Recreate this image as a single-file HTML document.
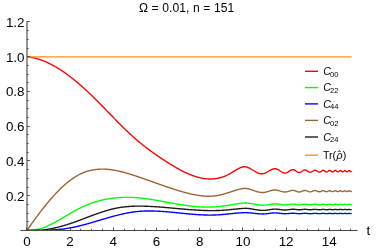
<!DOCTYPE html>
<html><head><meta charset="utf-8"><title>plot</title>
<style>html,body{margin:0;padding:0;background:#fff;overflow:hidden}svg{display:block}</style>
</head><body>
<svg width="384" height="249" viewBox="0 0 384 249">
<rect width="384" height="249" fill="#fff"/>
<g fill="none" stroke-width="1.38" stroke-linejoin="round" stroke-linecap="butt">
<path stroke="#ff0000" d="M27.00,56.80 L27.50,56.85 L28.00,56.90 L28.50,56.96 L29.00,57.02 L29.50,57.09 L30.00,57.17 L30.50,57.24 L31.00,57.33 L31.50,57.42 L32.00,57.51 L32.50,57.61 L33.00,57.71 L33.50,57.81 L34.00,57.92 L34.50,58.04 L35.00,58.16 L35.50,58.29 L36.00,58.42 L36.50,58.55 L37.00,58.69 L37.50,58.83 L38.00,58.98 L38.50,59.13 L39.00,59.29 L39.50,59.45 L40.00,59.61 L40.50,59.78 L41.00,59.96 L41.50,60.14 L42.00,60.32 L42.50,60.51 L43.00,60.70 L43.50,60.89 L44.00,61.09 L44.50,61.29 L45.00,61.50 L45.50,61.71 L46.00,61.93 L46.50,62.15 L47.00,62.37 L47.50,62.60 L48.00,62.83 L48.50,63.07 L49.00,63.31 L49.50,63.55 L50.00,63.80 L50.50,64.05 L51.00,64.30 L51.50,64.56 L52.00,64.82 L52.50,65.09 L53.00,65.36 L53.50,65.63 L54.00,65.91 L54.50,66.19 L55.00,66.48 L55.50,66.76 L56.00,67.05 L56.50,67.35 L57.00,67.65 L57.50,67.95 L58.00,68.26 L58.50,68.56 L59.00,68.88 L59.50,69.19 L60.00,69.51 L60.50,69.83 L61.00,70.16 L61.50,70.49 L62.00,70.82 L62.50,71.16 L63.00,71.50 L63.50,71.84 L64.00,72.18 L64.50,72.53 L65.00,72.88 L65.50,73.24 L66.00,73.60 L66.50,73.96 L67.00,74.32 L67.50,74.69 L68.00,75.06 L68.50,75.43 L69.00,75.80 L69.50,76.18 L70.00,76.56 L70.50,76.95 L71.00,77.33 L71.50,77.72 L72.00,78.12 L72.50,78.51 L73.00,78.91 L73.50,79.31 L74.00,79.71 L74.50,80.12 L75.00,80.53 L75.50,80.94 L76.00,81.35 L76.50,81.77 L77.00,82.19 L77.50,82.61 L78.00,83.03 L78.50,83.46 L79.00,83.89 L79.50,84.32 L80.00,84.75 L80.50,85.19 L81.00,85.62 L81.50,86.06 L82.00,86.51 L82.50,86.95 L83.00,87.40 L83.50,87.85 L84.00,88.30 L84.50,88.75 L85.00,89.21 L85.50,89.67 L86.00,90.13 L86.50,90.59 L87.00,91.05 L87.50,91.52 L88.00,91.99 L88.50,92.46 L89.00,92.93 L89.50,93.40 L90.00,93.88 L90.50,94.35 L91.00,94.83 L91.50,95.31 L92.00,95.80 L92.50,96.28 L93.00,96.77 L93.50,97.25 L94.00,97.74 L94.50,98.23 L95.00,98.73 L95.50,99.22 L96.00,99.72 L96.50,100.21 L97.00,100.71 L97.50,101.21 L98.00,101.72 L98.50,102.22 L99.00,102.72 L99.50,103.23 L100.00,103.73 L100.50,104.24 L101.00,104.75 L101.50,105.26 L102.00,105.77 L102.50,106.28 L103.00,106.79 L103.50,107.30 L104.00,107.81 L104.50,108.33 L105.00,108.84 L105.50,109.36 L106.00,109.87 L106.50,110.39 L107.00,110.90 L107.50,111.42 L108.00,111.93 L108.50,112.45 L109.00,112.96 L109.50,113.48 L110.00,113.99 L110.50,114.51 L111.00,115.03 L111.50,115.54 L112.00,116.06 L112.50,116.57 L113.00,117.08 L113.50,117.60 L114.00,118.11 L114.50,118.62 L115.00,119.13 L115.50,119.65 L116.00,120.16 L116.50,120.67 L117.00,121.17 L117.50,121.68 L118.00,122.19 L118.50,122.70 L119.00,123.20 L119.50,123.70 L120.00,124.21 L120.50,124.71 L121.00,125.21 L121.50,125.70 L122.00,126.20 L122.50,126.70 L123.00,127.19 L123.50,127.68 L124.00,128.17 L124.50,128.66 L125.00,129.15 L125.50,129.63 L126.00,130.12 L126.50,130.60 L127.00,131.08 L127.50,131.56 L128.00,132.03 L128.50,132.50 L129.00,132.97 L129.50,133.44 L130.00,133.91 L130.50,134.37 L131.00,134.83 L131.50,135.29 L132.00,135.75 L132.50,136.20 L133.00,136.65 L133.50,137.10 L134.00,137.54 L134.50,137.99 L135.00,138.43 L135.50,138.86 L136.00,139.30 L136.50,139.73 L137.00,140.16 L137.50,140.58 L138.00,141.01 L138.50,141.43 L139.00,141.85 L139.50,142.26 L140.00,142.67 L140.50,143.09 L141.00,143.49 L141.50,143.90 L142.00,144.30 L142.50,144.70 L143.00,145.10 L143.50,145.50 L144.00,145.89 L144.50,146.29 L145.00,146.68 L145.50,147.06 L146.00,147.45 L146.50,147.83 L147.00,148.21 L147.50,148.59 L148.00,148.97 L148.50,149.35 L149.00,149.72 L149.50,150.09 L150.00,150.46 L150.50,150.83 L151.00,151.19 L151.50,151.55 L152.00,151.92 L152.50,152.28 L153.00,152.63 L153.50,152.99 L154.00,153.35 L154.50,153.70 L155.00,154.05 L155.50,154.40 L156.00,154.75 L156.50,155.09 L157.00,155.44 L157.50,155.78 L158.00,156.12 L158.50,156.46 L159.00,156.80 L159.50,157.14 L160.00,157.47 L160.50,157.81 L161.00,158.14 L161.50,158.47 L162.00,158.80 L162.50,159.13 L163.00,159.46 L163.50,159.79 L164.00,160.11 L164.50,160.44 L165.00,160.76 L165.50,161.08 L166.00,161.41 L166.50,161.73 L167.00,162.05 L167.50,162.36 L168.00,162.68 L168.50,163.00 L169.00,163.31 L169.50,163.62 L170.00,163.93 L170.50,164.24 L171.00,164.55 L171.50,164.86 L172.00,165.16 L172.50,165.47 L173.00,165.77 L173.50,166.07 L174.00,166.36 L174.50,166.66 L175.00,166.95 L175.50,167.24 L176.00,167.53 L176.50,167.82 L177.00,168.10 L177.50,168.39 L178.00,168.67 L178.50,168.94 L179.00,169.22 L179.50,169.49 L180.00,169.76 L180.50,170.03 L181.00,170.29 L181.50,170.56 L182.00,170.82 L182.50,171.07 L183.00,171.32 L183.50,171.57 L184.00,171.82 L184.50,172.07 L185.00,172.31 L185.50,172.54 L186.00,172.78 L186.50,173.01 L187.00,173.24 L187.50,173.46 L188.00,173.68 L188.50,173.90 L189.00,174.11 L189.50,174.32 L190.00,174.53 L190.50,174.73 L191.00,174.93 L191.50,175.12 L192.00,175.31 L192.50,175.50 L193.00,175.68 L193.50,175.86 L194.00,176.03 L194.50,176.20 L195.00,176.36 L195.50,176.52 L196.00,176.68 L196.50,176.83 L197.00,176.98 L197.50,177.12 L198.00,177.26 L198.50,177.39 L199.00,177.52 L199.50,177.64 L200.00,177.76 L200.50,177.87 L201.00,177.98 L201.50,178.08 L202.00,178.18 L202.50,178.28 L203.00,178.36 L203.50,178.45 L204.00,178.52 L204.50,178.59 L205.00,178.66 L205.50,178.72 L206.00,178.77 L206.50,178.82 L207.00,178.87 L207.50,178.90 L208.00,178.94 L208.50,178.96 L209.00,178.98 L209.50,179.00 L210.00,179.00 L210.50,179.00 L211.00,179.00 L211.50,178.99 L212.00,178.97 L212.50,178.95 L213.00,178.92 L213.50,178.88 L214.00,178.84 L214.50,178.79 L215.00,178.73 L215.50,178.67 L216.00,178.60 L216.50,178.52 L217.00,178.44 L217.50,178.35 L218.00,178.25 L218.50,178.15 L219.00,178.04 L219.50,177.92 L220.00,177.79 L220.50,177.66 L221.00,177.52 L221.50,177.37 L222.00,177.21 L222.50,177.05 L223.00,176.88 L223.50,176.70 L224.00,176.52 L224.50,176.32 L225.00,176.12 L225.50,175.91 L226.00,175.70 L226.50,175.47 L227.00,175.24 L227.50,175.00 L228.00,174.75 L228.50,174.49 L229.00,174.22 L229.50,173.95 L230.00,173.67 L230.50,173.37 L231.00,173.08 L231.50,172.77 L232.00,172.46 L232.50,172.15 L233.00,171.84 L233.50,171.52 L234.00,171.20 L234.50,170.89 L235.00,170.57 L235.50,170.27 L236.00,169.96 L236.50,169.66 L237.00,169.37 L237.50,169.09 L238.00,168.81 L238.50,168.55 L239.00,168.30 L239.50,168.06 L240.00,167.84 L240.50,167.63 L241.00,167.44 L241.50,167.27 L242.00,167.12 L242.50,166.98 L243.00,166.87 L243.50,166.78 L244.00,166.72 L244.20,166.70 L244.60,166.71 L245.01,166.74 L245.41,166.78 L245.82,166.84 L246.22,166.92 L246.63,167.02 L247.03,167.13 L247.44,167.26 L247.84,167.41 L248.25,167.57 L248.65,167.74 L249.05,167.93 L249.46,168.12 L249.86,168.33 L250.27,168.55 L250.67,168.78 L251.08,169.01 L251.48,169.25 L251.89,169.50 L252.29,169.74 L252.70,170.00 L253.10,170.25 L253.50,170.50 L253.91,170.76 L254.31,171.00 L254.72,171.25 L255.12,171.49 L255.53,171.72 L255.93,171.95 L256.34,172.17 L256.74,172.38 L257.15,172.57 L257.55,172.76 L257.95,172.93 L258.36,173.09 L258.76,173.24 L259.17,173.37 L259.57,173.48 L259.98,173.58 L260.38,173.66 L260.79,173.72 L261.19,173.76 L261.60,173.79 L262.00,173.80 L262.41,173.79 L262.81,173.75 L263.22,173.69 L263.62,173.61 L264.03,173.50 L264.44,173.37 L264.84,173.22 L265.25,173.05 L265.66,172.87 L266.06,172.67 L266.47,172.45 L266.88,172.23 L267.28,171.99 L267.69,171.75 L268.09,171.50 L268.50,171.25 L268.91,171.00 L269.31,170.75 L269.72,170.51 L270.12,170.27 L270.53,170.05 L270.94,169.83 L271.34,169.63 L271.75,169.45 L272.16,169.28 L272.56,169.13 L272.97,169.00 L273.38,168.89 L273.78,168.81 L274.19,168.75 L274.59,168.71 L275.00,168.70 L275.40,168.72 L275.80,168.77 L276.20,168.85 L276.60,168.97 L277.00,169.11 L277.40,169.28 L277.80,169.48 L278.20,169.70 L278.60,169.93 L279.00,170.19 L279.40,170.45 L279.80,170.72 L280.20,170.98 L280.60,171.25 L281.00,171.51 L281.40,171.77 L281.80,172.00 L282.20,172.22 L282.60,172.42 L283.00,172.59 L283.40,172.73 L283.80,172.85 L284.20,172.93 L284.60,172.98 L285.00,173.00 L285.40,172.98 L285.80,172.92 L286.20,172.82 L286.60,172.68 L287.00,172.52 L287.40,172.32 L287.80,172.10 L288.20,171.86 L288.60,171.61 L289.00,171.35 L289.40,171.09 L289.80,170.84 L290.20,170.60 L290.60,170.38 L291.00,170.18 L291.40,170.02 L291.80,169.88 L292.20,169.78 L292.60,169.72 L293.00,169.70 L293.41,169.73 L293.83,169.82 L294.24,169.97 L294.65,170.16 L295.07,170.40 L295.48,170.67 L295.89,170.95 L296.31,171.25 L296.72,171.53 L297.13,171.80 L297.55,172.04 L297.96,172.23 L298.37,172.38 L298.79,172.47 L299.20,172.50 L299.61,172.47 L300.03,172.38 L300.44,172.23 L300.86,172.03 L301.27,171.79 L301.69,171.53 L302.10,171.25 L302.51,170.97 L302.93,170.71 L303.34,170.47 L303.76,170.27 L304.17,170.12 L304.59,170.03 L305.00,170.00 L305.43,170.04 L305.85,170.15 L306.27,170.32 L306.70,170.55 L307.12,170.82 L307.55,171.10 L307.98,171.38 L308.40,171.65 L308.83,171.88 L309.25,172.05 L309.68,172.16 L310.10,172.20 L310.51,172.17 L310.92,172.07 L311.33,171.92 L311.73,171.72 L312.14,171.50 L312.55,171.25 L312.96,171.00 L313.37,170.78 L313.77,170.58 L314.18,170.43 L314.59,170.33 L315.00,170.30 L315.44,170.34 L315.88,170.47 L316.32,170.67 L316.76,170.92 L317.20,171.20 L317.64,171.48 L318.08,171.73 L318.52,171.93 L318.96,172.06 L319.40,172.10 L319.83,172.05 L320.27,171.89 L320.70,171.65 L321.13,171.36 L321.57,171.04 L322.00,170.75 L322.43,170.51 L322.87,170.35 L323.30,170.30 L323.74,170.38 L324.19,170.62 L324.63,170.96 L325.07,171.34 L325.51,171.68 L325.96,171.92 L326.40,172.00 L326.81,171.94 L327.22,171.77 L327.64,171.51 L328.05,171.20 L328.46,170.89 L328.88,170.63 L329.29,170.46 L329.70,170.40 L330.10,170.48 L330.50,170.70 L330.90,171.02 L331.30,171.38 L331.70,171.70 L332.10,171.92 L332.50,172.00 L332.91,171.92 L333.33,171.70 L333.74,171.38 L334.16,171.02 L334.57,170.70 L334.99,170.48 L335.40,170.40 L335.80,170.50 L336.20,170.78 L336.60,171.15 L337.00,171.53 L337.40,171.80 L337.80,171.90 L338.23,171.81 L338.67,171.55 L339.10,171.20 L339.53,170.85 L339.97,170.59 L340.40,170.50 L340.86,170.63 L341.32,170.98 L341.78,171.42 L342.24,171.77 L342.70,171.90 L343.14,171.77 L343.58,171.42 L344.02,170.98 L344.46,170.63 L344.90,170.50 L345.34,170.62 L345.78,170.95 L346.22,171.35 L346.66,171.68 L347.10,171.80 L347.50,171.69 L347.90,171.39 L348.30,171.01 L348.70,170.71 L349.10,170.60 L349.58,170.76 L350.05,171.15 L350.52,171.54 L351.00,171.70 L351.18,171.64 L351.35,171.50 L351.52,171.36 L351.70,171.30"/>
<path stroke="#00ff00" d="M31.00,230.15 L31.50,230.15 L32.00,230.15 L32.50,230.15 L33.00,230.15 L33.50,230.15 L34.00,230.11 L34.50,230.05 L35.00,229.97 L35.50,229.89 L36.00,229.80 L36.50,229.71 L37.00,229.60 L37.50,229.50 L38.00,229.38 L38.50,229.26 L39.00,229.13 L39.50,228.99 L40.00,228.85 L40.50,228.70 L41.00,228.55 L41.50,228.39 L42.00,228.22 L42.50,228.05 L43.00,227.88 L43.50,227.69 L44.00,227.51 L44.50,227.31 L45.00,227.12 L45.50,226.91 L46.00,226.71 L46.50,226.50 L47.00,226.28 L47.50,226.06 L48.00,225.83 L48.50,225.61 L49.00,225.37 L49.50,225.14 L50.00,224.89 L50.50,224.65 L51.00,224.40 L51.50,224.15 L52.00,223.90 L52.50,223.64 L53.00,223.38 L53.50,223.11 L54.00,222.85 L54.50,222.58 L55.00,222.31 L55.50,222.03 L56.00,221.75 L56.50,221.48 L57.00,221.19 L57.50,220.91 L58.00,220.63 L58.50,220.34 L59.00,220.05 L59.50,219.76 L60.00,219.47 L60.50,219.18 L61.00,218.88 L61.50,218.59 L62.00,218.29 L62.50,218.00 L63.00,217.70 L63.50,217.40 L64.00,217.11 L64.50,216.81 L65.00,216.51 L65.50,216.21 L66.00,215.91 L66.50,215.61 L67.00,215.32 L67.50,215.02 L68.00,214.72 L68.50,214.43 L69.00,214.13 L69.50,213.84 L70.00,213.54 L70.50,213.25 L71.00,212.96 L71.50,212.67 L72.00,212.38 L72.50,212.10 L73.00,211.81 L73.50,211.53 L74.00,211.25 L74.50,210.97 L75.00,210.70 L75.50,210.42 L76.00,210.15 L76.50,209.88 L77.00,209.62 L77.50,209.35 L78.00,209.09 L78.50,208.84 L79.00,208.58 L79.50,208.33 L80.00,208.09 L80.50,207.84 L81.00,207.60 L81.50,207.36 L82.00,207.13 L82.50,206.90 L83.00,206.67 L83.50,206.44 L84.00,206.22 L84.50,206.00 L85.00,205.78 L85.50,205.57 L86.00,205.36 L86.50,205.15 L87.00,204.95 L87.50,204.75 L88.00,204.55 L88.50,204.35 L89.00,204.16 L89.50,203.97 L90.00,203.78 L90.50,203.60 L91.00,203.42 L91.50,203.24 L92.00,203.07 L92.50,202.89 L93.00,202.72 L93.50,202.56 L94.00,202.39 L94.50,202.23 L95.00,202.08 L95.50,201.92 L96.00,201.77 L96.50,201.62 L97.00,201.47 L97.50,201.33 L98.00,201.19 L98.50,201.05 L99.00,200.91 L99.50,200.78 L100.00,200.65 L100.50,200.52 L101.00,200.40 L101.50,200.27 L102.00,200.15 L102.50,200.04 L103.00,199.92 L103.50,199.81 L104.00,199.70 L104.50,199.60 L105.00,199.49 L105.50,199.39 L106.00,199.29 L106.50,199.19 L107.00,199.10 L107.50,199.01 L108.00,198.92 L108.50,198.84 L109.00,198.75 L109.50,198.67 L110.00,198.59 L110.50,198.52 L111.00,198.44 L111.50,198.37 L112.00,198.30 L112.50,198.24 L113.00,198.17 L113.50,198.11 L114.00,198.05 L114.50,198.00 L115.00,197.94 L115.50,197.89 L116.00,197.84 L116.50,197.79 L117.00,197.75 L117.50,197.70 L118.00,197.66 L118.50,197.63 L119.00,197.59 L119.50,197.56 L120.00,197.53 L120.50,197.50 L121.00,197.47 L121.50,197.45 L122.00,197.42 L122.50,197.40 L123.00,197.39 L123.50,197.37 L124.00,197.36 L124.50,197.35 L125.00,197.34 L125.50,197.33 L126.00,197.32 L126.50,197.32 L127.00,197.32 L127.50,197.32 L128.00,197.33 L128.50,197.33 L129.00,197.34 L129.50,197.35 L130.00,197.36 L130.50,197.37 L131.00,197.39 L131.50,197.41 L132.00,197.43 L132.50,197.45 L133.00,197.47 L133.50,197.50 L134.00,197.53 L134.50,197.56 L135.00,197.59 L135.50,197.62 L136.00,197.66 L136.50,197.69 L137.00,197.73 L137.50,197.77 L138.00,197.82 L138.50,197.86 L139.00,197.91 L139.50,197.95 L140.00,198.00 L140.50,198.05 L141.00,198.10 L141.50,198.16 L142.00,198.21 L142.50,198.27 L143.00,198.33 L143.50,198.39 L144.00,198.45 L144.50,198.51 L145.00,198.57 L145.50,198.64 L146.00,198.70 L146.50,198.77 L147.00,198.84 L147.50,198.91 L148.00,198.98 L148.50,199.05 L149.00,199.12 L149.50,199.20 L150.00,199.27 L150.50,199.35 L151.00,199.43 L151.50,199.50 L152.00,199.58 L152.50,199.66 L153.00,199.74 L153.50,199.82 L154.00,199.90 L154.50,199.99 L155.00,200.07 L155.50,200.15 L156.00,200.24 L156.50,200.32 L157.00,200.41 L157.50,200.50 L158.00,200.58 L158.50,200.67 L159.00,200.76 L159.50,200.85 L160.00,200.94 L160.50,201.03 L161.00,201.11 L161.50,201.20 L162.00,201.29 L162.50,201.39 L163.00,201.48 L163.50,201.57 L164.00,201.66 L164.50,201.75 L165.00,201.84 L165.50,201.93 L166.00,202.02 L166.50,202.11 L167.00,202.21 L167.50,202.30 L168.00,202.39 L168.50,202.48 L169.00,202.57 L169.50,202.66 L170.00,202.75 L170.50,202.84 L171.00,202.93 L171.50,203.02 L172.00,203.11 L172.50,203.20 L173.00,203.29 L173.50,203.38 L174.00,203.47 L174.50,203.56 L175.00,203.64 L175.50,203.73 L176.00,203.82 L176.50,203.90 L177.00,203.99 L177.50,204.07 L178.00,204.16 L178.50,204.24 L179.00,204.32 L179.50,204.40 L180.00,204.48 L180.50,204.56 L181.00,204.64 L181.50,204.72 L182.00,204.80 L182.50,204.88 L183.00,204.96 L183.50,205.03 L184.00,205.11 L184.50,205.18 L185.00,205.25 L185.50,205.32 L186.00,205.39 L186.50,205.46 L187.00,205.53 L187.50,205.60 L188.00,205.67 L188.50,205.73 L189.00,205.79 L189.50,205.86 L190.00,205.92 L190.50,205.98 L191.00,206.04 L191.50,206.10 L192.00,206.15 L192.50,206.21 L193.00,206.26 L193.50,206.31 L194.00,206.36 L194.50,206.41 L195.00,206.46 L195.50,206.51 L196.00,206.55 L196.50,206.59 L197.00,206.64 L197.50,206.68 L198.00,206.72 L198.50,206.75 L199.00,206.79 L199.50,206.82 L200.00,206.85 L200.50,206.88 L201.00,206.91 L201.50,206.94 L202.00,206.96 L202.50,206.98 L203.00,207.00 L203.50,207.02 L204.00,207.04 L204.50,207.06 L205.00,207.07 L205.50,207.08 L206.00,207.09 L206.50,207.10 L207.00,207.10 L207.50,207.10 L208.00,207.10 L208.50,207.10 L209.00,207.10 L209.50,207.09 L210.00,207.08 L210.50,207.07 L211.00,207.06 L211.50,207.05 L212.00,207.03 L212.50,207.01 L213.00,206.99 L213.50,206.96 L214.00,206.94 L214.50,206.91 L215.00,206.87 L215.50,206.84 L216.00,206.80 L216.50,206.76 L217.00,206.72 L217.50,206.68 L218.00,206.63 L218.50,206.58 L219.00,206.53 L219.50,206.47 L220.00,206.42 L220.50,206.36 L221.00,206.30 L221.50,206.24 L222.00,206.17 L222.50,206.11 L223.00,206.04 L223.50,205.97 L224.00,205.90 L224.50,205.83 L225.00,205.76 L225.50,205.69 L226.00,205.61 L226.50,205.53 L227.00,205.46 L227.50,205.38 L228.00,205.30 L228.50,205.22 L229.00,205.14 L229.50,205.06 L230.00,204.98 L230.50,204.90 L231.00,204.82 L231.50,204.74 L232.00,204.65 L232.50,204.57 L233.00,204.49 L233.50,204.41 L234.00,204.33 L234.50,204.25 L235.00,204.17 L235.50,204.09 L236.00,204.01 L236.50,203.93 L237.00,203.86 L237.50,203.78 L238.00,203.71 L238.50,203.64 L239.00,203.57 L239.50,203.51 L240.00,203.44 L240.50,203.38 L241.00,203.33 L241.50,203.27 L242.00,203.22 L242.50,203.18 L243.00,203.13 L243.50,203.09 L244.00,203.06 L244.50,203.03 L245.00,203.00 L245.40,203.00 L245.80,203.01 L246.20,203.02 L246.60,203.04 L247.00,203.07 L247.40,203.10 L247.80,203.13 L248.20,203.17 L248.60,203.21 L249.00,203.26 L249.40,203.31 L249.80,203.36 L250.20,203.42 L250.60,203.48 L251.00,203.55 L251.40,203.62 L251.80,203.69 L252.20,203.76 L252.60,203.83 L253.00,203.91 L253.40,203.99 L253.80,204.06 L254.20,204.14 L254.60,204.21 L255.00,204.29 L255.40,204.37 L255.80,204.44 L256.20,204.51 L256.60,204.58 L257.00,204.65 L257.40,204.72 L257.80,204.78 L258.20,204.84 L258.60,204.89 L259.00,204.94 L259.40,204.99 L259.80,205.03 L260.20,205.07 L260.60,205.10 L261.00,205.13 L261.40,205.16 L261.80,205.18 L262.20,205.19 L262.60,205.20 L263.00,205.20 L263.40,205.20 L263.80,205.19 L264.20,205.17 L264.60,205.14 L265.00,205.11 L265.40,205.08 L265.80,205.03 L266.20,204.98 L266.60,204.93 L267.00,204.88 L267.40,204.81 L267.80,204.75 L268.20,204.69 L268.60,204.62 L269.00,204.55 L269.40,204.48 L269.80,204.41 L270.20,204.35 L270.60,204.29 L271.00,204.22 L271.40,204.17 L271.80,204.12 L272.20,204.07 L272.60,204.02 L273.00,203.99 L273.40,203.96 L273.80,203.93 L274.20,203.91 L274.60,203.90 L275.00,203.90 L275.40,203.90 L275.80,203.92 L276.20,203.94 L276.60,203.96 L277.00,204.00 L277.40,204.04 L277.80,204.08 L278.20,204.13 L278.60,204.19 L279.00,204.25 L279.40,204.31 L279.80,204.37 L280.20,204.43 L280.60,204.49 L281.00,204.55 L281.40,204.61 L281.80,204.67 L282.20,204.72 L282.60,204.76 L283.00,204.80 L283.40,204.84 L283.80,204.86 L284.20,204.88 L284.60,204.90 L285.00,204.90 L285.40,204.90 L285.80,204.88 L286.20,204.86 L286.60,204.82 L287.00,204.78 L287.40,204.74 L287.80,204.68 L288.20,204.62 L288.60,204.56 L289.00,204.50 L289.40,204.44 L289.80,204.38 L290.20,204.32 L290.60,204.26 L291.00,204.22 L291.40,204.18 L291.80,204.14 L292.20,204.12 L292.60,204.10 L293.00,204.10 L293.41,204.11 L293.83,204.13 L294.24,204.18 L294.65,204.23 L295.07,204.30 L295.48,204.38 L295.89,204.46 L296.31,204.54 L296.72,204.62 L297.13,204.70 L297.55,204.77 L297.96,204.82 L298.37,204.87 L298.79,204.89 L299.20,204.90 L299.61,204.89 L300.03,204.86 L300.44,204.82 L300.86,204.76 L301.27,204.69 L301.69,204.61 L302.10,204.53 L302.51,204.44 L302.93,204.36 L303.34,204.29 L303.76,204.23 L304.17,204.19 L304.59,204.16 L305.00,204.15 L305.43,204.16 L305.85,204.20 L306.27,204.25 L306.70,204.32 L307.12,204.41 L307.55,204.50 L307.98,204.59 L308.40,204.67 L308.83,204.75 L309.25,204.80 L309.68,204.84 L310.10,204.85 L310.51,204.84 L310.92,204.81 L311.33,204.75 L311.73,204.69 L312.14,204.61 L312.55,204.53 L312.96,204.44 L313.37,204.36 L313.77,204.30 L314.18,204.24 L314.59,204.21 L315.00,204.20 L315.44,204.21 L315.88,204.26 L316.32,204.32 L316.76,204.41 L317.20,204.50 L317.64,204.59 L318.08,204.68 L318.52,204.74 L318.96,204.79 L319.40,204.80 L319.83,204.78 L320.27,204.73 L320.70,204.65 L321.13,204.55 L321.57,204.45 L322.00,204.35 L322.43,204.27 L322.87,204.22 L323.30,204.20 L323.74,204.23 L324.19,204.31 L324.63,204.43 L325.07,204.57 L325.51,204.69 L325.96,204.77 L326.40,204.80 L326.81,204.78 L327.22,204.72 L327.64,204.63 L328.05,204.53 L328.46,204.42 L328.88,204.33 L329.29,204.27 L329.70,204.25 L330.10,204.27 L330.50,204.34 L330.90,204.44 L331.30,204.56 L331.70,204.66 L332.10,204.73 L332.50,204.75 L332.91,204.73 L333.33,204.66 L333.74,204.56 L334.16,204.44 L334.57,204.34 L334.99,204.27 L335.40,204.25 L335.80,204.28 L336.20,204.38 L336.60,204.50 L337.00,204.62 L337.40,204.72 L337.80,204.75 L338.23,204.72 L338.67,204.64 L339.10,204.53 L339.53,204.41 L339.97,204.33 L340.40,204.30 L340.86,204.34 L341.32,204.44 L341.78,204.56 L342.24,204.66 L342.70,204.70 L343.14,204.66 L343.58,204.56 L344.02,204.44 L344.46,204.34 L344.90,204.30 L345.34,204.34 L345.78,204.44 L346.22,204.56 L346.66,204.66 L347.10,204.70 L347.50,204.66 L347.90,204.56 L348.30,204.44 L348.70,204.34 L349.10,204.30 L349.58,204.36 L350.05,204.50 L350.52,204.64 L351.00,204.70 L351.18,204.67 L351.35,204.60 L351.52,204.53 L351.70,204.50"/>
<path stroke="#0000ff" d="M47.00,230.15 L47.50,230.15 L48.00,230.15 L48.50,230.15 L49.00,230.15 L49.50,230.13 L50.00,230.10 L50.50,230.08 L51.00,230.05 L51.50,230.03 L52.00,230.00 L52.50,229.97 L53.00,229.94 L53.50,229.90 L54.00,229.87 L54.50,229.84 L55.00,229.80 L55.50,229.76 L56.00,229.72 L56.50,229.68 L57.00,229.64 L57.50,229.59 L58.00,229.55 L58.50,229.50 L59.00,229.45 L59.50,229.40 L60.00,229.35 L60.50,229.29 L61.00,229.24 L61.50,229.18 L62.00,229.12 L62.50,229.06 L63.00,229.00 L63.50,228.94 L64.00,228.87 L64.50,228.80 L65.00,228.73 L65.50,228.66 L66.00,228.59 L66.50,228.51 L67.00,228.44 L67.50,228.36 L68.00,228.28 L68.50,228.19 L69.00,228.11 L69.50,228.02 L70.00,227.93 L70.50,227.84 L71.00,227.75 L71.50,227.66 L72.00,227.56 L72.50,227.46 L73.00,227.36 L73.50,227.26 L74.00,227.15 L74.50,227.05 L75.00,226.94 L75.50,226.83 L76.00,226.72 L76.50,226.61 L77.00,226.49 L77.50,226.38 L78.00,226.26 L78.50,226.14 L79.00,226.02 L79.50,225.90 L80.00,225.78 L80.50,225.65 L81.00,225.53 L81.50,225.40 L82.00,225.27 L82.50,225.14 L83.00,225.01 L83.50,224.88 L84.00,224.75 L84.50,224.61 L85.00,224.48 L85.50,224.34 L86.00,224.21 L86.50,224.07 L87.00,223.93 L87.50,223.79 L88.00,223.65 L88.50,223.51 L89.00,223.37 L89.50,223.23 L90.00,223.08 L90.50,222.94 L91.00,222.79 L91.50,222.65 L92.00,222.50 L92.50,222.36 L93.00,222.21 L93.50,222.06 L94.00,221.92 L94.50,221.77 L95.00,221.62 L95.50,221.47 L96.00,221.32 L96.50,221.18 L97.00,221.03 L97.50,220.88 L98.00,220.73 L98.50,220.58 L99.00,220.43 L99.50,220.28 L100.00,220.13 L100.50,219.98 L101.00,219.83 L101.50,219.68 L102.00,219.53 L102.50,219.39 L103.00,219.24 L103.50,219.09 L104.00,218.94 L104.50,218.79 L105.00,218.65 L105.50,218.50 L106.00,218.35 L106.50,218.21 L107.00,218.06 L107.50,217.92 L108.00,217.77 L108.50,217.63 L109.00,217.48 L109.50,217.34 L110.00,217.20 L110.50,217.06 L111.00,216.92 L111.50,216.78 L112.00,216.64 L112.50,216.50 L113.00,216.37 L113.50,216.23 L114.00,216.10 L114.50,215.96 L115.00,215.83 L115.50,215.70 L116.00,215.57 L116.50,215.44 L117.00,215.31 L117.50,215.18 L118.00,215.06 L118.50,214.93 L119.00,214.81 L119.50,214.69 L120.00,214.57 L120.50,214.45 L121.00,214.33 L121.50,214.22 L122.00,214.10 L122.50,213.99 L123.00,213.88 L123.50,213.77 L124.00,213.66 L124.50,213.56 L125.00,213.45 L125.50,213.35 L126.00,213.25 L126.50,213.15 L127.00,213.05 L127.50,212.96 L128.00,212.86 L128.50,212.77 L129.00,212.68 L129.50,212.60 L130.00,212.51 L130.50,212.43 L131.00,212.35 L131.50,212.27 L132.00,212.20 L132.50,212.12 L133.00,212.05 L133.50,211.98 L134.00,211.92 L134.50,211.85 L135.00,211.79 L135.50,211.73 L136.00,211.67 L136.50,211.62 L137.00,211.57 L137.50,211.52 L138.00,211.47 L138.50,211.43 L139.00,211.38 L139.50,211.34 L140.00,211.31 L140.50,211.27 L141.00,211.24 L141.50,211.20 L142.00,211.17 L142.50,211.15 L143.00,211.12 L143.50,211.10 L144.00,211.08 L144.50,211.06 L145.00,211.04 L145.50,211.03 L146.00,211.01 L146.50,211.00 L147.00,210.99 L147.50,210.98 L148.00,210.98 L148.50,210.97 L149.00,210.97 L149.50,210.97 L150.00,210.97 L150.50,210.97 L151.00,210.98 L151.50,210.98 L152.00,210.99 L152.50,211.00 L153.00,211.01 L153.50,211.02 L154.00,211.04 L154.50,211.05 L155.00,211.07 L155.50,211.08 L156.00,211.10 L156.50,211.12 L157.00,211.14 L157.50,211.17 L158.00,211.19 L158.50,211.22 L159.00,211.24 L159.50,211.27 L160.00,211.30 L160.50,211.33 L161.00,211.36 L161.50,211.39 L162.00,211.42 L162.50,211.46 L163.00,211.49 L163.50,211.53 L164.00,211.57 L164.50,211.60 L165.00,211.64 L165.50,211.68 L166.00,211.72 L166.50,211.76 L167.00,211.80 L167.50,211.85 L168.00,211.89 L168.50,211.93 L169.00,211.98 L169.50,212.02 L170.00,212.07 L170.50,212.11 L171.00,212.16 L171.50,212.21 L172.00,212.25 L172.50,212.30 L173.00,212.35 L173.50,212.40 L174.00,212.45 L174.50,212.50 L175.00,212.55 L175.50,212.60 L176.00,212.65 L176.50,212.70 L177.00,212.75 L177.50,212.80 L178.00,212.85 L178.50,212.90 L179.00,212.95 L179.50,213.00 L180.00,213.05 L180.50,213.10 L181.00,213.15 L181.50,213.20 L182.00,213.25 L182.50,213.30 L183.00,213.36 L183.50,213.41 L184.00,213.46 L184.50,213.51 L185.00,213.55 L185.50,213.60 L186.00,213.65 L186.50,213.70 L187.00,213.75 L187.50,213.80 L188.00,213.85 L188.50,213.89 L189.00,213.94 L189.50,213.98 L190.00,214.03 L190.50,214.07 L191.00,214.12 L191.50,214.16 L192.00,214.21 L192.50,214.25 L193.00,214.29 L193.50,214.33 L194.00,214.37 L194.50,214.41 L195.00,214.45 L195.50,214.49 L196.00,214.52 L196.50,214.56 L197.00,214.59 L197.50,214.63 L198.00,214.66 L198.50,214.69 L199.00,214.72 L199.50,214.75 L200.00,214.78 L200.50,214.81 L201.00,214.84 L201.50,214.86 L202.00,214.88 L202.50,214.91 L203.00,214.93 L203.50,214.95 L204.00,214.97 L204.50,214.99 L205.00,215.00 L205.50,215.02 L206.00,215.03 L206.50,215.04 L207.00,215.05 L207.50,215.06 L208.00,215.07 L208.50,215.07 L209.00,215.08 L209.50,215.08 L210.00,215.08 L210.50,215.08 L211.00,215.08 L211.50,215.07 L212.00,215.07 L212.50,215.06 L213.00,215.05 L213.50,215.04 L214.00,215.03 L214.50,215.01 L215.00,214.99 L215.50,214.97 L216.00,214.95 L216.50,214.93 L217.00,214.90 L217.50,214.88 L218.00,214.85 L218.50,214.82 L219.00,214.79 L219.50,214.75 L220.00,214.71 L220.50,214.68 L221.00,214.64 L221.50,214.60 L222.00,214.56 L222.50,214.51 L223.00,214.47 L223.50,214.42 L224.00,214.38 L224.50,214.33 L225.00,214.28 L225.50,214.24 L226.00,214.19 L226.50,214.14 L227.00,214.09 L227.50,214.04 L228.00,213.99 L228.50,213.94 L229.00,213.88 L229.50,213.83 L230.00,213.78 L230.50,213.73 L231.00,213.68 L231.50,213.63 L232.00,213.58 L232.50,213.53 L233.00,213.48 L233.50,213.43 L234.00,213.38 L234.50,213.34 L235.00,213.29 L235.50,213.24 L236.00,213.20 L236.50,213.15 L237.00,213.11 L237.50,213.07 L238.00,213.03 L238.50,212.99 L239.00,212.95 L239.50,212.92 L240.00,212.88 L240.50,212.85 L241.00,212.82 L241.50,212.79 L242.00,212.77 L242.50,212.74 L243.00,212.72 L243.50,212.70 L244.00,212.68 L244.50,212.66 L245.00,212.65 L245.40,212.65 L245.80,212.66 L246.20,212.66 L246.60,212.68 L247.00,212.69 L247.40,212.71 L247.80,212.73 L248.20,212.75 L248.60,212.77 L249.00,212.80 L249.40,212.83 L249.80,212.87 L250.20,212.90 L250.60,212.94 L251.00,212.97 L251.40,213.02 L251.80,213.06 L252.20,213.10 L252.60,213.14 L253.00,213.19 L253.40,213.23 L253.80,213.28 L254.20,213.32 L254.60,213.37 L255.00,213.41 L255.40,213.46 L255.80,213.50 L256.20,213.54 L256.60,213.58 L257.00,213.62 L257.40,213.66 L257.80,213.70 L258.20,213.73 L258.60,213.77 L259.00,213.80 L259.40,213.83 L259.80,213.85 L260.20,213.87 L260.60,213.89 L261.00,213.91 L261.40,213.92 L261.80,213.94 L262.20,213.94 L262.60,213.95 L263.00,213.95 L263.40,213.95 L263.80,213.94 L264.20,213.92 L264.60,213.90 L265.00,213.88 L265.40,213.85 L265.80,213.82 L266.20,213.78 L266.60,213.73 L267.00,213.69 L267.40,213.64 L267.80,213.59 L268.20,213.53 L268.60,213.48 L269.00,213.43 L269.40,213.37 L269.80,213.32 L270.20,213.26 L270.60,213.21 L271.00,213.16 L271.40,213.12 L271.80,213.07 L272.20,213.03 L272.60,213.00 L273.00,212.97 L273.40,212.95 L273.80,212.93 L274.20,212.91 L274.60,212.90 L275.00,212.90 L275.40,212.90 L275.80,212.91 L276.20,212.93 L276.60,212.95 L277.00,212.98 L277.40,213.01 L277.80,213.05 L278.20,213.09 L278.60,213.13 L279.00,213.18 L279.40,213.23 L279.80,213.27 L280.20,213.33 L280.60,213.37 L281.00,213.42 L281.40,213.47 L281.80,213.51 L282.20,213.55 L282.60,213.59 L283.00,213.62 L283.40,213.65 L283.80,213.67 L284.20,213.69 L284.60,213.70 L285.00,213.70 L285.40,213.70 L285.80,213.69 L286.20,213.68 L286.60,213.66 L287.00,213.63 L287.40,213.61 L287.80,213.58 L288.20,213.54 L288.60,213.51 L289.00,213.47 L289.40,213.44 L289.80,213.41 L290.20,213.37 L290.60,213.34 L291.00,213.32 L291.40,213.29 L291.80,213.27 L292.20,213.26 L292.60,213.25 L293.00,213.25 L293.41,213.25 L293.83,213.27 L294.24,213.29 L294.65,213.32 L295.07,213.36 L295.48,213.41 L295.89,213.45 L296.31,213.50 L296.72,213.54 L297.13,213.59 L297.55,213.63 L297.96,213.66 L298.37,213.68 L298.79,213.70 L299.20,213.70 L299.61,213.69 L300.03,213.68 L300.44,213.66 L300.86,213.62 L301.27,213.59 L301.69,213.54 L302.10,213.50 L302.51,213.46 L302.93,213.41 L303.34,213.38 L303.76,213.34 L304.17,213.32 L304.59,213.31 L305.00,213.30 L305.43,213.31 L305.85,213.33 L306.27,213.36 L306.70,213.40 L307.12,213.45 L307.55,213.50 L307.98,213.55 L308.40,213.60 L308.83,213.64 L309.25,213.67 L309.68,213.69 L310.10,213.70 L310.51,213.69 L310.92,213.68 L311.33,213.65 L311.73,213.61 L312.14,213.57 L312.55,213.53 L312.96,213.48 L313.37,213.44 L313.77,213.40 L314.18,213.37 L314.59,213.36 L315.00,213.35 L315.44,213.36 L315.88,213.38 L316.32,213.41 L316.76,213.45 L317.20,213.50 L317.64,213.55 L318.08,213.59 L318.52,213.62 L318.96,213.64 L319.40,213.65 L319.83,213.64 L320.27,213.61 L320.70,213.58 L321.13,213.53 L321.57,213.47 L322.00,213.43 L322.43,213.39 L322.87,213.36 L323.30,213.35 L323.74,213.36 L324.19,213.41 L324.63,213.47 L325.07,213.53 L325.51,213.59 L325.96,213.64 L326.40,213.65 L326.81,213.64 L327.22,213.61 L327.64,213.57 L328.05,213.53 L328.46,213.48 L328.88,213.44 L329.29,213.41 L329.70,213.40 L330.10,213.41 L330.50,213.44 L330.90,213.48 L331.30,213.52 L331.70,213.56 L332.10,213.59 L332.50,213.60 L332.91,213.59 L333.33,213.56 L333.74,213.52 L334.16,213.48 L334.57,213.44 L334.99,213.41 L335.40,213.40 L335.80,213.41 L336.20,213.45 L336.60,213.50 L337.00,213.55 L337.40,213.59 L337.80,213.60 L338.23,213.59 L338.67,213.55 L339.10,213.50 L339.53,213.45 L339.97,213.41 L340.40,213.40 L340.86,213.42 L341.32,213.47 L341.78,213.53 L342.24,213.58 L342.70,213.60 L343.14,213.58 L343.58,213.53 L344.02,213.47 L344.46,213.42 L344.90,213.40 L345.34,213.42 L345.78,213.47 L346.22,213.53 L346.66,213.58 L347.10,213.60 L347.50,213.58 L347.90,213.53 L348.30,213.47 L348.70,213.42 L349.10,213.40 L349.58,213.43 L350.05,213.50 L350.52,213.57 L351.00,213.60 L351.18,213.59 L351.35,213.55 L351.52,213.51 L351.70,213.50"/>
<path stroke="#996633" d="M27.00,230.15 L27.50,229.58 L28.00,228.87 L28.50,228.15 L29.00,227.44 L29.50,226.73 L30.00,226.02 L30.50,225.31 L31.00,224.61 L31.50,223.91 L32.00,223.21 L32.50,222.51 L33.00,221.82 L33.50,221.12 L34.00,220.43 L34.50,219.75 L35.00,219.06 L35.50,218.38 L36.00,217.70 L36.50,217.02 L37.00,216.35 L37.50,215.68 L38.00,215.01 L38.50,214.34 L39.00,213.68 L39.50,213.02 L40.00,212.36 L40.50,211.71 L41.00,211.06 L41.50,210.41 L42.00,209.77 L42.50,209.13 L43.00,208.49 L43.50,207.86 L44.00,207.23 L44.50,206.60 L45.00,205.98 L45.50,205.36 L46.00,204.75 L46.50,204.13 L47.00,203.53 L47.50,202.92 L48.00,202.32 L48.50,201.72 L49.00,201.13 L49.50,200.54 L50.00,199.96 L50.50,199.38 L51.00,198.80 L51.50,198.23 L52.00,197.66 L52.50,197.10 L53.00,196.54 L53.50,195.98 L54.00,195.43 L54.50,194.89 L55.00,194.35 L55.50,193.81 L56.00,193.28 L56.50,192.75 L57.00,192.23 L57.50,191.71 L58.00,191.20 L58.50,190.69 L59.00,190.19 L59.50,189.69 L60.00,189.20 L60.50,188.71 L61.00,188.23 L61.50,187.75 L62.00,187.28 L62.50,186.81 L63.00,186.35 L63.50,185.90 L64.00,185.44 L64.50,185.00 L65.00,184.56 L65.50,184.13 L66.00,183.70 L66.50,183.28 L67.00,182.86 L67.50,182.45 L68.00,182.04 L68.50,181.64 L69.00,181.25 L69.50,180.86 L70.00,180.48 L70.50,180.11 L71.00,179.74 L71.50,179.38 L72.00,179.02 L72.50,178.67 L73.00,178.33 L73.50,177.99 L74.00,177.66 L74.50,177.33 L75.00,177.02 L75.50,176.71 L76.00,176.40 L76.50,176.10 L77.00,175.81 L77.50,175.53 L78.00,175.25 L78.50,174.98 L79.00,174.72 L79.50,174.46 L80.00,174.21 L80.50,173.97 L81.00,173.73 L81.50,173.50 L82.00,173.28 L82.50,173.06 L83.00,172.85 L83.50,172.65 L84.00,172.45 L84.50,172.26 L85.00,172.07 L85.50,171.89 L86.00,171.72 L86.50,171.55 L87.00,171.39 L87.50,171.24 L88.00,171.09 L88.50,170.95 L89.00,170.81 L89.50,170.68 L90.00,170.55 L90.50,170.43 L91.00,170.32 L91.50,170.21 L92.00,170.11 L92.50,170.01 L93.00,169.92 L93.50,169.83 L94.00,169.75 L94.50,169.67 L95.00,169.60 L95.50,169.53 L96.00,169.47 L96.50,169.42 L97.00,169.37 L97.50,169.32 L98.00,169.28 L98.50,169.24 L99.00,169.21 L99.50,169.18 L100.00,169.16 L100.50,169.14 L101.00,169.13 L101.50,169.12 L102.00,169.11 L102.50,169.11 L103.00,169.11 L103.50,169.12 L104.00,169.13 L104.50,169.15 L105.00,169.17 L105.50,169.19 L106.00,169.22 L106.50,169.25 L107.00,169.29 L107.50,169.33 L108.00,169.37 L108.50,169.42 L109.00,169.47 L109.50,169.53 L110.00,169.58 L110.50,169.64 L111.00,169.71 L111.50,169.78 L112.00,169.85 L112.50,169.92 L113.00,170.00 L113.50,170.08 L114.00,170.17 L114.50,170.25 L115.00,170.34 L115.50,170.44 L116.00,170.53 L116.50,170.63 L117.00,170.73 L117.50,170.83 L118.00,170.94 L118.50,171.05 L119.00,171.16 L119.50,171.28 L120.00,171.39 L120.50,171.51 L121.00,171.63 L121.50,171.76 L122.00,171.88 L122.50,172.01 L123.00,172.14 L123.50,172.27 L124.00,172.41 L124.50,172.54 L125.00,172.68 L125.50,172.82 L126.00,172.96 L126.50,173.10 L127.00,173.25 L127.50,173.39 L128.00,173.54 L128.50,173.69 L129.00,173.84 L129.50,173.99 L130.00,174.15 L130.50,174.30 L131.00,174.46 L131.50,174.62 L132.00,174.77 L132.50,174.93 L133.00,175.09 L133.50,175.25 L134.00,175.42 L134.50,175.58 L135.00,175.74 L135.50,175.91 L136.00,176.07 L136.50,176.24 L137.00,176.41 L137.50,176.57 L138.00,176.74 L138.50,176.91 L139.00,177.08 L139.50,177.25 L140.00,177.42 L140.50,177.59 L141.00,177.76 L141.50,177.94 L142.00,178.11 L142.50,178.28 L143.00,178.45 L143.50,178.63 L144.00,178.80 L144.50,178.98 L145.00,179.15 L145.50,179.33 L146.00,179.51 L146.50,179.68 L147.00,179.86 L147.50,180.04 L148.00,180.21 L148.50,180.39 L149.00,180.57 L149.50,180.75 L150.00,180.92 L150.50,181.10 L151.00,181.28 L151.50,181.46 L152.00,181.64 L152.50,181.81 L153.00,181.99 L153.50,182.17 L154.00,182.35 L154.50,182.53 L155.00,182.71 L155.50,182.88 L156.00,183.06 L156.50,183.24 L157.00,183.42 L157.50,183.60 L158.00,183.77 L158.50,183.95 L159.00,184.13 L159.50,184.30 L160.00,184.48 L160.50,184.66 L161.00,184.83 L161.50,185.01 L162.00,185.18 L162.50,185.36 L163.00,185.53 L163.50,185.71 L164.00,185.88 L164.50,186.05 L165.00,186.23 L165.50,186.40 L166.00,186.57 L166.50,186.74 L167.00,186.91 L167.50,187.08 L168.00,187.25 L168.50,187.42 L169.00,187.59 L169.50,187.76 L170.00,187.92 L170.50,188.09 L171.00,188.25 L171.50,188.42 L172.00,188.58 L172.50,188.74 L173.00,188.90 L173.50,189.07 L174.00,189.23 L174.50,189.39 L175.00,189.54 L175.50,189.70 L176.00,189.86 L176.50,190.01 L177.00,190.17 L177.50,190.32 L178.00,190.47 L178.50,190.62 L179.00,190.77 L179.50,190.92 L180.00,191.07 L180.50,191.22 L181.00,191.36 L181.50,191.51 L182.00,191.65 L182.50,191.79 L183.00,191.93 L183.50,192.07 L184.00,192.21 L184.50,192.35 L185.00,192.48 L185.50,192.62 L186.00,192.75 L186.50,192.88 L187.00,193.01 L187.50,193.14 L188.00,193.26 L188.50,193.39 L189.00,193.51 L189.50,193.63 L190.00,193.75 L190.50,193.87 L191.00,193.98 L191.50,194.09 L192.00,194.20 L192.50,194.31 L193.00,194.42 L193.50,194.52 L194.00,194.62 L194.50,194.72 L195.00,194.82 L195.50,194.91 L196.00,195.00 L196.50,195.09 L197.00,195.17 L197.50,195.25 L198.00,195.33 L198.50,195.41 L199.00,195.48 L199.50,195.55 L200.00,195.62 L200.50,195.68 L201.00,195.74 L201.50,195.80 L202.00,195.85 L202.50,195.91 L203.00,195.95 L203.50,195.99 L204.00,196.03 L204.50,196.07 L205.00,196.10 L205.50,196.13 L206.00,196.15 L206.50,196.17 L207.00,196.19 L207.50,196.20 L208.00,196.21 L208.50,196.21 L209.00,196.21 L209.50,196.21 L210.00,196.20 L210.50,196.18 L211.00,196.16 L211.50,196.14 L212.00,196.11 L212.50,196.08 L213.00,196.04 L213.50,196.00 L214.00,195.95 L214.50,195.90 L215.00,195.84 L215.50,195.78 L216.00,195.71 L216.50,195.64 L217.00,195.56 L217.50,195.48 L218.00,195.39 L218.50,195.30 L219.00,195.20 L219.50,195.10 L220.00,194.99 L220.50,194.88 L221.00,194.76 L221.50,194.65 L222.00,194.52 L222.50,194.40 L223.00,194.27 L223.50,194.13 L224.00,193.99 L224.50,193.85 L225.00,193.71 L225.50,193.57 L226.00,193.42 L226.50,193.27 L227.00,193.12 L227.50,192.96 L228.00,192.81 L228.50,192.65 L229.00,192.49 L229.50,192.33 L230.00,192.16 L230.50,192.00 L231.00,191.83 L231.50,191.67 L232.00,191.50 L232.50,191.34 L233.00,191.17 L233.50,191.00 L234.00,190.83 L234.50,190.67 L235.00,190.50 L235.50,190.34 L236.00,190.18 L236.50,190.02 L237.00,189.87 L237.50,189.72 L238.00,189.57 L238.50,189.43 L239.00,189.30 L239.50,189.17 L240.00,189.05 L240.50,188.94 L241.00,188.84 L241.50,188.74 L242.00,188.66 L242.50,188.58 L243.00,188.52 L243.50,188.47 L244.00,188.43 L244.50,188.40 L244.90,188.40 L245.30,188.42 L245.70,188.44 L246.10,188.48 L246.50,188.52 L246.90,188.58 L247.30,188.64 L247.70,188.71 L248.10,188.79 L248.50,188.88 L248.90,188.98 L249.30,189.08 L249.70,189.19 L250.10,189.30 L250.50,189.43 L250.90,189.55 L251.30,189.68 L251.70,189.82 L252.10,189.95 L252.50,190.09 L252.90,190.24 L253.30,190.38 L253.70,190.52 L254.10,190.66 L254.50,190.81 L254.90,190.95 L255.30,191.08 L255.70,191.22 L256.10,191.35 L256.50,191.47 L256.90,191.60 L257.30,191.71 L257.70,191.82 L258.10,191.92 L258.50,192.02 L258.90,192.11 L259.30,192.19 L259.70,192.26 L260.10,192.32 L260.50,192.38 L260.90,192.42 L261.30,192.46 L261.70,192.48 L262.10,192.50 L262.50,192.50 L262.90,192.49 L263.31,192.47 L263.71,192.44 L264.11,192.40 L264.52,192.34 L264.92,192.28 L265.32,192.20 L265.73,192.11 L266.13,192.02 L266.53,191.91 L266.94,191.80 L267.34,191.68 L267.74,191.56 L268.15,191.44 L268.55,191.31 L268.95,191.19 L269.35,191.06 L269.76,190.94 L270.16,190.82 L270.56,190.70 L270.97,190.59 L271.37,190.48 L271.77,190.39 L272.18,190.30 L272.58,190.22 L272.98,190.16 L273.39,190.10 L273.79,190.06 L274.19,190.03 L274.60,190.01 L275.00,190.00 L275.40,190.01 L275.80,190.03 L276.20,190.07 L276.60,190.12 L277.00,190.19 L277.40,190.27 L277.80,190.36 L278.20,190.46 L278.60,190.57 L279.00,190.69 L279.40,190.81 L279.80,190.94 L280.20,191.06 L280.60,191.19 L281.00,191.31 L281.40,191.43 L281.80,191.54 L282.20,191.64 L282.60,191.73 L283.00,191.81 L283.40,191.88 L283.80,191.93 L284.20,191.97 L284.60,191.99 L285.00,192.00 L285.40,191.99 L285.80,191.96 L286.20,191.91 L286.60,191.84 L287.00,191.76 L287.40,191.66 L287.80,191.55 L288.20,191.43 L288.60,191.30 L289.00,191.18 L289.40,191.05 L289.80,190.92 L290.20,190.80 L290.60,190.69 L291.00,190.59 L291.40,190.51 L291.80,190.44 L292.20,190.39 L292.60,190.36 L293.00,190.35 L293.41,190.37 L293.83,190.42 L294.24,190.51 L294.65,190.62 L295.07,190.76 L295.48,190.92 L295.89,191.09 L296.31,191.26 L296.72,191.43 L297.13,191.59 L297.55,191.73 L297.96,191.84 L298.37,191.93 L298.79,191.98 L299.20,192.00 L299.61,191.98 L300.03,191.92 L300.44,191.83 L300.86,191.71 L301.27,191.56 L301.69,191.40 L302.10,191.22 L302.51,191.05 L302.93,190.89 L303.34,190.74 L303.76,190.62 L304.17,190.53 L304.59,190.47 L305.00,190.45 L305.43,190.47 L305.85,190.55 L306.27,190.66 L306.70,190.81 L307.12,190.99 L307.55,191.17 L307.98,191.36 L308.40,191.54 L308.83,191.69 L309.25,191.80 L309.68,191.88 L310.10,191.90 L310.51,191.88 L310.92,191.81 L311.33,191.70 L311.73,191.56 L312.14,191.40 L312.55,191.22 L312.96,191.05 L313.37,190.89 L313.77,190.75 L314.18,190.64 L314.59,190.57 L315.00,190.55 L315.44,190.58 L315.88,190.67 L316.32,190.81 L316.76,190.98 L317.20,191.17 L317.64,191.37 L318.08,191.54 L318.52,191.68 L318.96,191.77 L319.40,191.80 L319.83,191.77 L320.27,191.67 L320.70,191.51 L321.13,191.32 L321.57,191.13 L322.00,190.94 L322.43,190.78 L322.87,190.68 L323.30,190.65 L323.74,190.70 L324.19,190.85 L324.63,191.06 L325.07,191.29 L325.51,191.50 L325.96,191.65 L326.40,191.70 L326.81,191.66 L327.22,191.55 L327.64,191.39 L328.05,191.20 L328.46,191.01 L328.88,190.85 L329.29,190.74 L329.70,190.70 L330.10,190.75 L330.50,190.88 L330.90,191.07 L331.30,191.28 L331.70,191.47 L332.10,191.60 L332.50,191.65 L332.91,191.61 L333.33,191.48 L333.74,191.30 L334.16,191.10 L334.57,190.92 L334.99,190.79 L335.40,190.75 L335.80,190.81 L336.20,190.96 L336.60,191.17 L337.00,191.39 L337.40,191.54 L337.80,191.60 L338.23,191.55 L338.67,191.40 L339.10,191.20 L339.53,191.00 L339.97,190.85 L340.40,190.80 L340.86,190.88 L341.32,191.08 L341.78,191.32 L342.24,191.52 L342.70,191.60 L343.14,191.52 L343.58,191.32 L344.02,191.08 L344.46,190.88 L344.90,190.80 L345.34,190.88 L345.78,191.08 L346.22,191.32 L346.66,191.52 L347.10,191.60 L347.50,191.52 L347.90,191.32 L348.30,191.08 L348.70,190.88 L349.10,190.80 L349.58,190.92 L350.05,191.20 L350.52,191.48 L351.00,191.60 L351.18,191.54 L351.35,191.40 L351.52,191.26 L351.70,191.20"/>
<path stroke="#1a1a1a" d="M27.00,230.15 L27.50,230.15 L28.00,230.15 L28.50,230.15 L29.00,230.15 L29.50,230.15 L30.00,230.15 L30.50,230.15 L31.00,230.15 L31.50,230.15 L32.00,230.15 L32.50,230.15 L33.00,230.15 L33.50,230.15 L34.00,230.15 L34.50,230.15 L35.00,230.15 L35.50,230.15 L36.00,230.15 L36.50,230.15 L37.00,230.15 L37.50,230.15 L38.00,230.15 L38.50,230.15 L39.00,230.15 L39.50,230.15 L40.00,230.15 L40.50,230.15 L41.00,230.13 L41.50,230.09 L42.00,230.04 L42.50,229.99 L43.00,229.93 L43.50,229.88 L44.00,229.82 L44.50,229.76 L45.00,229.69 L45.50,229.63 L46.00,229.56 L46.50,229.49 L47.00,229.41 L47.50,229.34 L48.00,229.26 L48.50,229.18 L49.00,229.09 L49.50,229.01 L50.00,228.92 L50.50,228.83 L51.00,228.73 L51.50,228.64 L52.00,228.54 L52.50,228.44 L53.00,228.33 L53.50,228.23 L54.00,228.12 L54.50,228.01 L55.00,227.90 L55.50,227.79 L56.00,227.67 L56.50,227.55 L57.00,227.43 L57.50,227.31 L58.00,227.19 L58.50,227.06 L59.00,226.93 L59.50,226.81 L60.00,226.67 L60.50,226.54 L61.00,226.40 L61.50,226.27 L62.00,226.13 L62.50,225.99 L63.00,225.84 L63.50,225.70 L64.00,225.55 L64.50,225.40 L65.00,225.25 L65.50,225.10 L66.00,224.95 L66.50,224.79 L67.00,224.63 L67.50,224.48 L68.00,224.32 L68.50,224.15 L69.00,223.99 L69.50,223.83 L70.00,223.66 L70.50,223.49 L71.00,223.32 L71.50,223.15 L72.00,222.98 L72.50,222.81 L73.00,222.63 L73.50,222.46 L74.00,222.28 L74.50,222.10 L75.00,221.93 L75.50,221.75 L76.00,221.57 L76.50,221.38 L77.00,221.20 L77.50,221.02 L78.00,220.83 L78.50,220.65 L79.00,220.46 L79.50,220.28 L80.00,220.09 L80.50,219.90 L81.00,219.72 L81.50,219.53 L82.00,219.34 L82.50,219.15 L83.00,218.96 L83.50,218.77 L84.00,218.58 L84.50,218.39 L85.00,218.20 L85.50,218.01 L86.00,217.82 L86.50,217.63 L87.00,217.44 L87.50,217.25 L88.00,217.06 L88.50,216.87 L89.00,216.69 L89.50,216.50 L90.00,216.31 L90.50,216.12 L91.00,215.93 L91.50,215.75 L92.00,215.56 L92.50,215.38 L93.00,215.19 L93.50,215.01 L94.00,214.82 L94.50,214.64 L95.00,214.46 L95.50,214.28 L96.00,214.10 L96.50,213.92 L97.00,213.74 L97.50,213.56 L98.00,213.39 L98.50,213.21 L99.00,213.04 L99.50,212.87 L100.00,212.70 L100.50,212.53 L101.00,212.36 L101.50,212.19 L102.00,212.03 L102.50,211.87 L103.00,211.70 L103.50,211.54 L104.00,211.39 L104.50,211.23 L105.00,211.08 L105.50,210.92 L106.00,210.77 L106.50,210.62 L107.00,210.48 L107.50,210.33 L108.00,210.19 L108.50,210.05 L109.00,209.91 L109.50,209.77 L110.00,209.64 L110.50,209.51 L111.00,209.38 L111.50,209.25 L112.00,209.13 L112.50,209.00 L113.00,208.88 L113.50,208.77 L114.00,208.65 L114.50,208.54 L115.00,208.43 L115.50,208.33 L116.00,208.22 L116.50,208.12 L117.00,208.03 L117.50,207.93 L118.00,207.84 L118.50,207.75 L119.00,207.67 L119.50,207.58 L120.00,207.50 L120.50,207.43 L121.00,207.35 L121.50,207.28 L122.00,207.21 L122.50,207.14 L123.00,207.07 L123.50,207.01 L124.00,206.95 L124.50,206.89 L125.00,206.84 L125.50,206.79 L126.00,206.73 L126.50,206.69 L127.00,206.64 L127.50,206.60 L128.00,206.55 L128.50,206.51 L129.00,206.48 L129.50,206.44 L130.00,206.41 L130.50,206.38 L131.00,206.35 L131.50,206.32 L132.00,206.29 L132.50,206.27 L133.00,206.25 L133.50,206.23 L134.00,206.21 L134.50,206.20 L135.00,206.18 L135.50,206.17 L136.00,206.16 L136.50,206.15 L137.00,206.14 L137.50,206.13 L138.00,206.13 L138.50,206.13 L139.00,206.12 L139.50,206.12 L140.00,206.13 L140.50,206.13 L141.00,206.13 L141.50,206.14 L142.00,206.15 L142.50,206.15 L143.00,206.16 L143.50,206.17 L144.00,206.19 L144.50,206.20 L145.00,206.21 L145.50,206.23 L146.00,206.24 L146.50,206.26 L147.00,206.28 L147.50,206.30 L148.00,206.32 L148.50,206.34 L149.00,206.36 L149.50,206.38 L150.00,206.41 L150.50,206.43 L151.00,206.46 L151.50,206.49 L152.00,206.51 L152.50,206.54 L153.00,206.57 L153.50,206.60 L154.00,206.63 L154.50,206.66 L155.00,206.69 L155.50,206.72 L156.00,206.76 L156.50,206.79 L157.00,206.82 L157.50,206.86 L158.00,206.90 L158.50,206.93 L159.00,206.97 L159.50,207.01 L160.00,207.04 L160.50,207.08 L161.00,207.12 L161.50,207.16 L162.00,207.20 L162.50,207.24 L163.00,207.28 L163.50,207.32 L164.00,207.36 L164.50,207.40 L165.00,207.45 L165.50,207.49 L166.00,207.53 L166.50,207.57 L167.00,207.62 L167.50,207.66 L168.00,207.71 L168.50,207.75 L169.00,207.79 L169.50,207.84 L170.00,207.88 L170.50,207.93 L171.00,207.97 L171.50,208.02 L172.00,208.07 L172.50,208.11 L173.00,208.16 L173.50,208.20 L174.00,208.25 L174.50,208.29 L175.00,208.34 L175.50,208.39 L176.00,208.43 L176.50,208.48 L177.00,208.52 L177.50,208.57 L178.00,208.62 L178.50,208.66 L179.00,208.71 L179.50,208.75 L180.00,208.80 L180.50,208.84 L181.00,208.89 L181.50,208.93 L182.00,208.98 L182.50,209.02 L183.00,209.06 L183.50,209.11 L184.00,209.15 L184.50,209.19 L185.00,209.24 L185.50,209.28 L186.00,209.32 L186.50,209.36 L187.00,209.40 L187.50,209.45 L188.00,209.49 L188.50,209.53 L189.00,209.57 L189.50,209.61 L190.00,209.64 L190.50,209.68 L191.00,209.72 L191.50,209.76 L192.00,209.79 L192.50,209.83 L193.00,209.86 L193.50,209.90 L194.00,209.93 L194.50,209.97 L195.00,210.00 L195.50,210.03 L196.00,210.06 L196.50,210.09 L197.00,210.12 L197.50,210.15 L198.00,210.18 L198.50,210.21 L199.00,210.24 L199.50,210.26 L200.00,210.29 L200.50,210.31 L201.00,210.34 L201.50,210.36 L202.00,210.38 L202.50,210.40 L203.00,210.42 L203.50,210.44 L204.00,210.46 L204.50,210.48 L205.00,210.49 L205.50,210.51 L206.00,210.52 L206.50,210.54 L207.00,210.55 L207.50,210.56 L208.00,210.57 L208.50,210.58 L209.00,210.58 L209.50,210.59 L210.00,210.60 L210.50,210.60 L211.00,210.60 L211.50,210.60 L212.00,210.60 L212.50,210.60 L213.00,210.60 L213.50,210.60 L214.00,210.59 L214.50,210.59 L215.00,210.58 L215.50,210.57 L216.00,210.56 L216.50,210.55 L217.00,210.54 L217.50,210.52 L218.00,210.51 L218.50,210.49 L219.00,210.47 L219.50,210.45 L220.00,210.43 L220.50,210.40 L221.00,210.38 L221.50,210.35 L222.00,210.32 L222.50,210.29 L223.00,210.26 L223.50,210.23 L224.00,210.20 L224.50,210.16 L225.00,210.12 L225.50,210.08 L226.00,210.04 L226.50,210.00 L227.00,209.95 L227.50,209.91 L228.00,209.86 L228.50,209.82 L229.00,209.77 L229.50,209.72 L230.00,209.67 L230.50,209.62 L231.00,209.56 L231.50,209.51 L232.00,209.46 L232.50,209.41 L233.00,209.35 L233.50,209.30 L234.00,209.25 L234.50,209.20 L235.00,209.14 L235.50,209.09 L236.00,209.04 L236.50,208.99 L237.00,208.94 L237.50,208.89 L238.00,208.84 L238.50,208.79 L239.00,208.75 L239.50,208.70 L240.00,208.65 L240.50,208.61 L241.00,208.57 L241.50,208.53 L242.00,208.49 L242.50,208.46 L243.00,208.42 L243.50,208.39 L244.00,208.36 L244.50,208.33 L245.00,208.30 L245.40,208.30 L245.80,208.31 L246.20,208.32 L246.60,208.34 L247.00,208.36 L247.40,208.39 L247.80,208.42 L248.20,208.46 L248.60,208.50 L249.00,208.55 L249.40,208.59 L249.80,208.65 L250.20,208.70 L250.60,208.76 L251.00,208.83 L251.40,208.89 L251.80,208.96 L252.20,209.03 L252.60,209.10 L253.00,209.17 L253.40,209.24 L253.80,209.31 L254.20,209.39 L254.60,209.46 L255.00,209.53 L255.40,209.60 L255.80,209.67 L256.20,209.74 L256.60,209.81 L257.00,209.88 L257.40,209.94 L257.80,210.00 L258.20,210.05 L258.60,210.11 L259.00,210.15 L259.40,210.20 L259.80,210.24 L260.20,210.28 L260.60,210.31 L261.00,210.34 L261.40,210.36 L261.80,210.38 L262.20,210.39 L262.60,210.40 L263.00,210.40 L263.40,210.40 L263.80,210.39 L264.20,210.37 L264.60,210.35 L265.00,210.32 L265.40,210.28 L265.80,210.24 L266.20,210.19 L266.60,210.14 L267.00,210.09 L267.40,210.03 L267.80,209.97 L268.20,209.90 L268.60,209.84 L269.00,209.78 L269.40,209.71 L269.80,209.65 L270.20,209.58 L270.60,209.52 L271.00,209.46 L271.40,209.41 L271.80,209.36 L272.20,209.31 L272.60,209.27 L273.00,209.23 L273.40,209.20 L273.80,209.18 L274.20,209.16 L274.60,209.15 L275.00,209.15 L275.40,209.15 L275.80,209.16 L276.20,209.18 L276.60,209.20 L277.00,209.23 L277.40,209.27 L277.80,209.30 L278.20,209.35 L278.60,209.39 L279.00,209.44 L279.40,209.50 L279.80,209.55 L280.20,209.60 L280.60,209.65 L281.00,209.71 L281.40,209.76 L281.80,209.80 L282.20,209.85 L282.60,209.88 L283.00,209.92 L283.40,209.95 L283.80,209.97 L284.20,209.99 L284.60,210.00 L285.00,210.00 L285.40,210.00 L285.80,209.98 L286.20,209.96 L286.60,209.93 L287.00,209.89 L287.40,209.85 L287.80,209.80 L288.20,209.74 L288.60,209.68 L289.00,209.62 L289.40,209.57 L289.80,209.51 L290.20,209.45 L290.60,209.40 L291.00,209.36 L291.40,209.32 L291.80,209.29 L292.20,209.27 L292.60,209.25 L293.00,209.25 L293.41,209.26 L293.83,209.27 L294.24,209.30 L294.65,209.34 L295.07,209.39 L295.48,209.44 L295.89,209.50 L296.31,209.55 L296.72,209.61 L297.13,209.66 L297.55,209.71 L297.96,209.75 L298.37,209.78 L298.79,209.79 L299.20,209.80 L299.61,209.79 L300.03,209.78 L300.44,209.75 L300.86,209.71 L301.27,209.66 L301.69,209.61 L302.10,209.55 L302.51,209.49 L302.93,209.44 L303.34,209.39 L303.76,209.35 L304.17,209.32 L304.59,209.31 L305.00,209.30 L305.43,209.31 L305.85,209.33 L306.27,209.37 L306.70,209.41 L307.12,209.47 L307.55,209.53 L307.98,209.58 L308.40,209.64 L308.83,209.68 L309.25,209.72 L309.68,209.74 L310.10,209.75 L310.51,209.74 L310.92,209.72 L311.33,209.69 L311.73,209.65 L312.14,209.60 L312.55,209.55 L312.96,209.50 L313.37,209.45 L313.77,209.41 L314.18,209.38 L314.59,209.36 L315.00,209.35 L315.44,209.36 L315.88,209.39 L316.32,209.43 L316.76,209.49 L317.20,209.55 L317.64,209.61 L318.08,209.67 L318.52,209.71 L318.96,209.74 L319.40,209.75 L319.83,209.74 L320.27,209.70 L320.70,209.65 L321.13,209.58 L321.57,209.52 L322.00,209.45 L322.43,209.40 L322.87,209.36 L323.30,209.35 L323.74,209.37 L324.19,209.43 L324.63,209.51 L325.07,209.59 L325.51,209.67 L325.96,209.73 L326.40,209.75 L326.81,209.74 L327.22,209.70 L327.64,209.64 L328.05,209.58 L328.46,209.51 L328.88,209.45 L329.29,209.41 L329.70,209.40 L330.10,209.41 L330.50,209.46 L330.90,209.52 L331.30,209.58 L331.70,209.64 L332.10,209.69 L332.50,209.70 L332.91,209.69 L333.33,209.64 L333.74,209.58 L334.16,209.52 L334.57,209.46 L334.99,209.41 L335.40,209.40 L335.80,209.42 L336.20,209.47 L336.60,209.55 L337.00,209.62 L337.40,209.68 L337.80,209.70 L338.23,209.68 L338.67,209.63 L339.10,209.55 L339.53,209.48 L339.97,209.42 L340.40,209.40 L340.86,209.43 L341.32,209.50 L341.78,209.60 L342.24,209.67 L342.70,209.70 L343.14,209.67 L343.58,209.60 L344.02,209.50 L344.46,209.43 L344.90,209.40 L345.34,209.43 L345.78,209.50 L346.22,209.60 L346.66,209.67 L347.10,209.70 L347.50,209.67 L347.90,209.60 L348.30,209.50 L348.70,209.43 L349.10,209.40 L349.58,209.44 L350.05,209.55 L350.52,209.66 L351.00,209.70 L351.18,209.68 L351.35,209.63 L351.52,209.57 L351.70,209.55"/>
<path stroke="#ff8f1f" d="M26.9,56.9 L351.6,56.9"/>
</g>
<g stroke="#4a4a4a" stroke-width="1" fill="none">
<line x1="20.4" y1="230.5" x2="357.6" y2="230.5"/>
<line x1="27" y1="230.5" x2="27" y2="21.2" stroke-width="1.15"/>
<line x1="26.50" y1="230.5" x2="26.50" y2="227.60"/>
<line x1="37.50" y1="230.5" x2="37.50" y2="228.80"/>
<line x1="48.50" y1="230.5" x2="48.50" y2="228.80"/>
<line x1="59.50" y1="230.5" x2="59.50" y2="228.80"/>
<line x1="70.50" y1="230.5" x2="70.50" y2="227.60"/>
<line x1="80.50" y1="230.5" x2="80.50" y2="228.80"/>
<line x1="91.50" y1="230.5" x2="91.50" y2="228.80"/>
<line x1="102.50" y1="230.5" x2="102.50" y2="228.80"/>
<line x1="113.50" y1="230.5" x2="113.50" y2="227.60"/>
<line x1="124.50" y1="230.5" x2="124.50" y2="228.80"/>
<line x1="134.50" y1="230.5" x2="134.50" y2="228.80"/>
<line x1="145.50" y1="230.5" x2="145.50" y2="228.80"/>
<line x1="156.50" y1="230.5" x2="156.50" y2="227.60"/>
<line x1="167.50" y1="230.5" x2="167.50" y2="228.80"/>
<line x1="178.50" y1="230.5" x2="178.50" y2="228.80"/>
<line x1="188.50" y1="230.5" x2="188.50" y2="228.80"/>
<line x1="199.50" y1="230.5" x2="199.50" y2="227.60"/>
<line x1="210.50" y1="230.5" x2="210.50" y2="228.80"/>
<line x1="221.50" y1="230.5" x2="221.50" y2="228.80"/>
<line x1="232.50" y1="230.5" x2="232.50" y2="228.80"/>
<line x1="242.50" y1="230.5" x2="242.50" y2="227.60"/>
<line x1="253.50" y1="230.5" x2="253.50" y2="228.80"/>
<line x1="264.50" y1="230.5" x2="264.50" y2="228.80"/>
<line x1="275.50" y1="230.5" x2="275.50" y2="228.80"/>
<line x1="286.50" y1="230.5" x2="286.50" y2="227.60"/>
<line x1="296.50" y1="230.5" x2="296.50" y2="228.80"/>
<line x1="307.50" y1="230.5" x2="307.50" y2="228.80"/>
<line x1="318.50" y1="230.5" x2="318.50" y2="228.80"/>
<line x1="329.50" y1="230.5" x2="329.50" y2="227.60"/>
<line x1="340.50" y1="230.5" x2="340.50" y2="228.80"/>
<line x1="350.50" y1="230.5" x2="350.50" y2="228.80"/>
<line x1="26.9" y1="230.50" x2="29.80" y2="230.50"/>
<line x1="26.9" y1="221.50" x2="28.60" y2="221.50"/>
<line x1="26.9" y1="213.50" x2="28.60" y2="213.50"/>
<line x1="26.9" y1="204.50" x2="28.60" y2="204.50"/>
<line x1="26.9" y1="195.50" x2="29.80" y2="195.50"/>
<line x1="26.9" y1="187.50" x2="28.60" y2="187.50"/>
<line x1="26.9" y1="178.50" x2="28.60" y2="178.50"/>
<line x1="26.9" y1="169.50" x2="28.60" y2="169.50"/>
<line x1="26.9" y1="160.50" x2="29.80" y2="160.50"/>
<line x1="26.9" y1="152.50" x2="28.60" y2="152.50"/>
<line x1="26.9" y1="143.50" x2="28.60" y2="143.50"/>
<line x1="26.9" y1="134.50" x2="28.60" y2="134.50"/>
<line x1="26.9" y1="126.50" x2="29.80" y2="126.50"/>
<line x1="26.9" y1="117.50" x2="28.60" y2="117.50"/>
<line x1="26.9" y1="108.50" x2="28.60" y2="108.50"/>
<line x1="26.9" y1="100.50" x2="28.60" y2="100.50"/>
<line x1="26.9" y1="91.50" x2="29.80" y2="91.50"/>
<line x1="26.9" y1="82.50" x2="28.60" y2="82.50"/>
<line x1="26.9" y1="74.50" x2="28.60" y2="74.50"/>
<line x1="26.9" y1="65.50" x2="28.60" y2="65.50"/>
<line x1="26.9" y1="56.50" x2="29.80" y2="56.50"/>
<line x1="26.9" y1="48.50" x2="28.60" y2="48.50"/>
<line x1="26.9" y1="39.50" x2="28.60" y2="39.50"/>
<line x1="26.9" y1="30.50" x2="28.60" y2="30.50"/>
<line x1="26.9" y1="21.50" x2="29.80" y2="21.50"/>
</g>
<g font-family="Liberation Sans, sans-serif" font-size="13.4" fill="#000" style="filter:grayscale(1);will-change:transform">
<text x="26.90" y="245.8" text-anchor="middle">0</text>
<text x="70.10" y="245.8" text-anchor="middle">2</text>
<text x="113.30" y="245.8" text-anchor="middle">4</text>
<text x="156.50" y="245.8" text-anchor="middle">6</text>
<text x="199.70" y="245.8" text-anchor="middle">8</text>
<text x="242.90" y="245.8" text-anchor="middle">10</text>
<text x="286.10" y="245.8" text-anchor="middle">12</text>
<text x="329.30" y="245.8" text-anchor="middle">14</text>
<text x="24.5" y="200.74" text-anchor="end">0.2</text>
<text x="24.5" y="165.98" text-anchor="end">0.4</text>
<text x="24.5" y="131.22" text-anchor="end">0.6</text>
<text x="24.5" y="96.46" text-anchor="end">0.8</text>
<text x="24.5" y="61.70" text-anchor="end">1.0</text>
<text x="24.5" y="26.94" text-anchor="end">1.2</text>
<text x="366.6" y="235.1">t</text>
</g>
<text x="186.7" y="12" text-anchor="middle" font-family="Liberation Sans, sans-serif" font-size="12.1" letter-spacing="0.1" fill="#000" style="filter:grayscale(1);will-change:transform">Ω = 0.01, n = 151</text>
<g fill="none" stroke-width="1.38">
<line x1="305.0" y1="71.3" x2="318.0" y2="71.3" stroke="#ff0000"/>
<line x1="305.0" y1="87.6" x2="318.0" y2="87.6" stroke="#00ff00"/>
<line x1="305.0" y1="103.9" x2="318.0" y2="103.9" stroke="#0000ff"/>
<line x1="305.0" y1="120.4" x2="318.0" y2="120.4" stroke="#996633"/>
<line x1="305.0" y1="137.0" x2="318.0" y2="137.0" stroke="#1a1a1a"/>
<line x1="305.0" y1="155.2" x2="318.0" y2="155.2" stroke="#ff8f1f"/>
</g>
<g font-family="Liberation Sans, sans-serif" fill="#000" style="filter:grayscale(1);will-change:transform">
<text x="323.3" y="75.10" font-size="10.6"><tspan font-style="italic">C</tspan><tspan font-size="7.6" dx="-0.9" dy="1.6">00</tspan></text>
<text x="323.3" y="91.40" font-size="10.6"><tspan font-style="italic">C</tspan><tspan font-size="7.6" dx="-0.9" dy="1.6">22</tspan></text>
<text x="323.3" y="107.70" font-size="10.6"><tspan font-style="italic">C</tspan><tspan font-size="7.6" dx="-0.9" dy="1.6">44</tspan></text>
<text x="323.3" y="124.20" font-size="10.6"><tspan font-style="italic">C</tspan><tspan font-size="7.6" dx="-0.9" dy="1.6">02</tspan></text>
<text x="323.3" y="140.80" font-size="10.6"><tspan font-style="italic">C</tspan><tspan font-size="7.6" dx="-0.9" dy="1.6">24</tspan></text>
<text x="322.9" y="159.2" font-size="10.6">Tr(<tspan font-style="italic" dx="0.5">ρ</tspan><tspan dx="0.2">)</tspan></text>
<text x="337.1" y="158.9" font-size="10.6" font-style="italic">ˆ</text>
</g>
</svg>
</body></html>
